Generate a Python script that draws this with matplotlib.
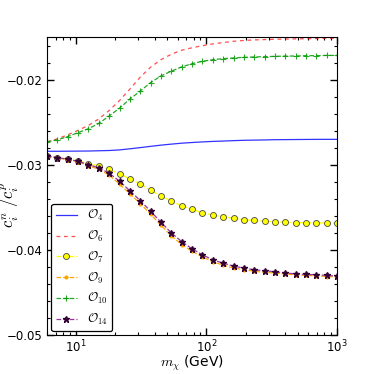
import matplotlib
matplotlib.use("Agg")
import matplotlib.pyplot as plt
from matplotlib.ticker import MultipleLocator

plt.rcParams['mathtext.fontset'] = 'cm'
plt.rcParams['font.family'] = ['DejaVu Sans']

m_chi = [6.0, 7.2, 8.65, 10.38, 12.46, 14.96, 17.96, 21.57, 25.89, 31.09, 37.33, 44.82,
         53.8, 64.6, 77.6, 93.1, 111.8, 134.2, 161.2, 193.5, 232.3, 278.9, 334.9, 402.0,
         482.7, 579.4, 695.7, 835.2, 1000.0]

O4 = [-0.02842, -0.02842, -0.02841, -0.02840, -0.02839, -0.02836, -0.02833, -0.02826,
      -0.02813, -0.02799, -0.02784, -0.02770, -0.02758, -0.02747, -0.02739, -0.02732,
      -0.02726, -0.02722, -0.02717, -0.02713, -0.02711, -0.02709, -0.02706, -0.02705,
      -0.02704, -0.02703, -0.02702, -0.02702, -0.02702]
O6 = [-0.02731, -0.02696, -0.02649, -0.02596, -0.02538, -0.02462, -0.02363, -0.02246,
      -0.02111, -0.01971, -0.01854, -0.01766, -0.01702, -0.01655, -0.01626, -0.01602,
      -0.01581, -0.01565, -0.01550, -0.01540, -0.01534, -0.01530, -0.01526, -0.01524,
      -0.01522, -0.01520, -0.01518, -0.01516, -0.01515]
O7 = [-0.02897, -0.02916, -0.02936, -0.02956, -0.02986, -0.03014, -0.03053, -0.03108,
      -0.03166, -0.03225, -0.03302, -0.03365, -0.03430, -0.03482, -0.03524, -0.03564,
      -0.03591, -0.03611, -0.03629, -0.03646, -0.03653, -0.03664, -0.03669, -0.03676,
      -0.03681, -0.03681, -0.03684, -0.03684, -0.03688]
O9 = [-0.02901, -0.02920, -0.02940, -0.02965, -0.03010, -0.03055, -0.03122, -0.03228,
      -0.03341, -0.03456, -0.03582, -0.03711, -0.03836, -0.03938, -0.04017, -0.04081,
      -0.04140, -0.04179, -0.04214, -0.04232, -0.04252, -0.04264, -0.04271, -0.04285,
      -0.04293, -0.04301, -0.04304, -0.04313, -0.04320]
O10 = [-0.02731, -0.02708, -0.02669, -0.02623, -0.02577, -0.02515, -0.02427, -0.02336,
       -0.02228, -0.02135, -0.02035, -0.01957, -0.01901, -0.01851, -0.01813, -0.01785,
       -0.01766, -0.01754, -0.01746, -0.01739, -0.01734, -0.01731, -0.01727, -0.01724,
       -0.01723, -0.01719, -0.01719, -0.01716, -0.01716]
O14 = [-0.02897, -0.02916, -0.02936, -0.02959, -0.02998, -0.03037, -0.03099, -0.03193,
       -0.03306, -0.03421, -0.03547, -0.03676, -0.03801, -0.03903, -0.03988, -0.04058,
       -0.04117, -0.04156, -0.04191, -0.04214, -0.04234, -0.04246, -0.04257, -0.04273,
       -0.04281, -0.04289, -0.04292, -0.04301, -0.04308]

labels = [r'$\mathcal{O}_4$', r'$\mathcal{O}_6$', r'$\mathcal{O}_7$',
          r'$\mathcal{O}_9$', r'$\mathcal{O}_{10}$', r'$\mathcal{O}_{14}$']

fig = plt.figure(figsize=(3.74, 3.74), dpi=100)
ax = fig.add_axes([0.1257, 0.1043, 0.7753, 0.7967])

ax.plot(m_chi, O4, '-', color='#3333ff', lw=0.9, label=labels[0])
ax.plot(m_chi, O6, '--', color='#ff2222', lw=0.9, dashes=(3, 3), alpha=0.8, label=labels[1])
ax.plot(m_chi, O7, '--', color='#ffff00', lw=0.9, marker='o', ms=4.3,
        mfc='#ffff00', mec='#444444', mew=0.6, label=labels[2])
ax.plot(m_chi, O9, '--', color='#ffa500', lw=0.9, marker='.', ms=4,
        mfc='#ffa500', mec='#ffa500', label=labels[3])
ax.plot(m_chi, O10, '--', color='#009900', lw=0.9, marker='+', ms=5,
        mew=0.8, alpha=0.85, label=labels[4])
ax.plot(m_chi, O14, '--', color='#993399', lw=0.9, marker='*', ms=4.5,
        mfc='#330033', mec='#330033', label=labels[5])

ax.set_xscale('log')
ax.set_xlim(6.0, 1000)
ax.set_ylim(-0.05, -0.015)
ax.yaxis.set_major_locator(MultipleLocator(0.01))
ax.yaxis.set_minor_locator(MultipleLocator(0.002))
ax.tick_params(which='both', direction='in', top=True, right=True, labelsize=8.5, pad=3)
ax.tick_params(axis='x', which='both', pad=2.5)
ax.tick_params(which='major', length=5, width=1)
ax.tick_params(which='minor', length=2.5, width=0.8)

ax.set_xlabel(r'$m_\chi$ (GeV)', fontsize=10)
ax.xaxis.set_label_coords(0.5, -0.062)
ax.set_ylabel(r'$c_i^n\ /c_i^p$', fontsize=12)
ax.yaxis.set_label_coords(-0.088, 0.436)

leg = ax.legend(loc='lower left', bbox_to_anchor=(0.015, 0.012), fontsize=9,
                frameon=True, fancybox=True, edgecolor='black', framealpha=1,
                handlelength=1.7, handletextpad=0.8, labelspacing=0.45, borderpad=0.35,
                borderaxespad=0.0)
leg.get_frame().set_linewidth(0.9)

fig.savefig('out.png', dpi=100)
